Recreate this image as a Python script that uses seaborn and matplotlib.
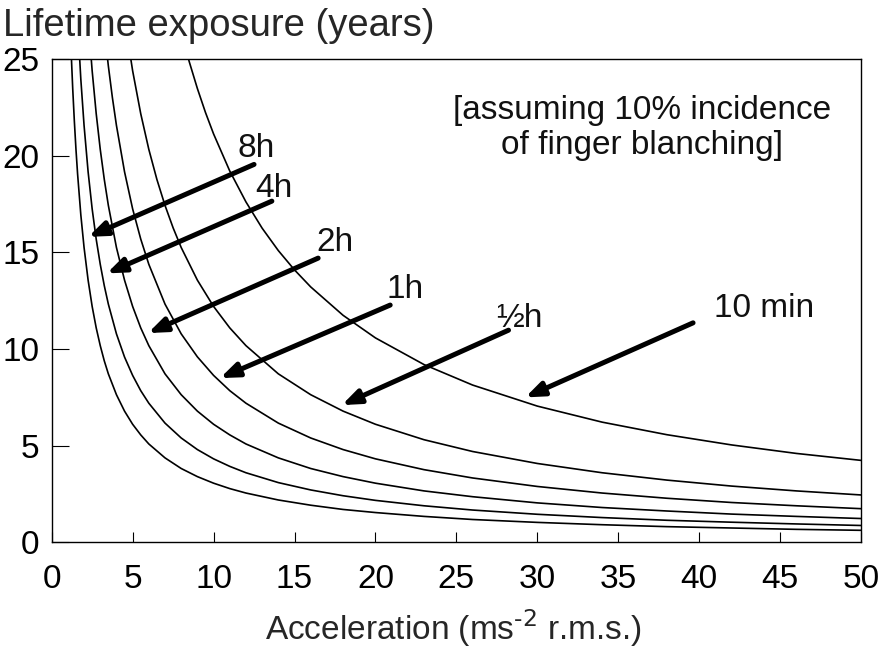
import numpy as np
import pandas as pd
import matplotlib
matplotlib.use("Agg")
import matplotlib.pyplot as plt
from matplotlib.ticker import MultipleLocator
import seaborn as sns

# Acceleration (m/s^2 r.m.s.) and lifetime exposure (years) for each daily exposure duration
accel_8h = [1.2, 1.3, 1.4, 1.5, 1.6, 1.8, 2.0, 2.25, 2.5, 2.75, 3.0, 3.25, 3.5, 4.0, 4.5, 5.0, 5.5, 6.0,
            7.0, 8.0, 9.0, 10, 11, 12, 14, 16, 18, 20, 23, 26, 30, 34, 38, 42, 46, 50]
years_8h = [25.42, 23.46, 21.79, 20.33, 19.06, 16.94, 15.25, 13.56, 12.20, 11.09, 10.17, 9.38, 8.71, 7.63,
            6.78, 6.10, 5.55, 5.08, 4.36, 3.81, 3.39, 3.05, 2.77, 2.54, 2.18, 1.91, 1.69, 1.53, 1.33, 1.17,
            1.02, 0.90, 0.80, 0.73, 0.66, 0.61]

accel_4h = [1.6, 1.8, 2.0, 2.25, 2.5, 2.75, 3.0, 3.25, 3.5, 4.0, 4.5, 5.0, 5.5, 6.0,
            7.0, 8.0, 9.0, 10, 11, 12, 14, 16, 18, 20, 23, 26, 30, 34, 38, 42, 46, 50]
years_4h = [26.96, 23.96, 21.57, 19.17, 17.25, 15.68, 14.38, 13.27, 12.32, 10.78, 9.58, 8.63, 7.84, 7.19,
            6.16, 5.39, 4.79, 4.31, 3.92, 3.59, 3.08, 2.70, 2.40, 2.16, 1.88, 1.66, 1.44, 1.27, 1.13, 1.03,
            0.94, 0.86]

accel_2h = [2.25, 2.5, 2.75, 3.0, 3.25, 3.5, 4.0, 4.5, 5.0, 5.5, 6.0,
            7.0, 8.0, 9.0, 10, 11, 12, 14, 16, 18, 20, 23, 26, 30, 34, 38, 42, 46, 50]
years_2h = [27.11, 24.40, 22.18, 20.33, 18.77, 17.43, 15.25, 13.56, 12.20, 11.09, 10.17,
            8.71, 7.63, 6.78, 6.10, 5.55, 5.08, 4.36, 3.81, 3.39, 3.05, 2.65, 2.35, 2.03, 1.79, 1.61,
            1.45, 1.33, 1.22]

accel_1h = [3.25, 3.5, 3.75, 4.0, 4.5, 5.0, 5.5, 6.0, 7.0, 8.0, 9.0, 10, 11, 12, 14, 16, 18, 20,
            23, 26, 30, 34, 38, 42, 46, 50]
years_1h = [26.54, 24.65, 23.01, 21.57, 19.17, 17.25, 15.69, 14.38, 12.32, 10.78, 9.59, 8.63, 7.84, 7.19,
            6.16, 5.39, 4.79, 4.31, 3.75, 3.32, 2.88, 2.54, 2.27, 2.05, 1.88, 1.73]

accel_30m = [4.5, 5.0, 5.5, 6.0, 6.5, 7.0, 7.5, 8.0, 9.0, 10, 11, 12, 14, 16, 18, 20, 23, 26, 30,
             34, 38, 42, 46, 50]
years_30m = [27.11, 24.40, 22.18, 20.33, 18.77, 17.43, 16.27, 15.25, 13.56, 12.20, 11.09, 10.17, 8.71,
             7.63, 6.78, 6.10, 5.30, 4.69, 4.07, 3.59, 3.21, 2.90, 2.65, 2.44]

accel_10m = [8.0, 8.5, 9.0, 9.5, 10, 11, 12, 13, 14, 15, 16, 18, 20, 23, 26, 30, 34, 38, 42, 46, 50]
years_10m = [26.41, 24.86, 23.48, 22.24, 21.13, 19.21, 17.61, 16.25, 15.09, 14.09, 13.21, 11.74, 10.57,
             9.19, 8.13, 7.04, 6.21, 5.56, 5.03, 4.59, 4.23]

durations = ["8h", "4h", "2h", "1h", "\u00bdh", "10 min"]
accels = [accel_8h, accel_4h, accel_2h, accel_1h, accel_30m, accel_10m]
years = [years_8h, years_4h, years_2h, years_1h, years_30m, years_10m]

df = pd.concat(
    [pd.DataFrame({"acceleration": a, "years": y, "duration": d})
     for a, y, d in zip(accels, years, durations)],
    ignore_index=True,
)

# Arrow annotations: (label, label position, arrow tail, arrow tip)
label_pos = [(12.6, 20.4), (13.7, 18.3), (17.5, 15.5), (21.8, 13.1), (28.9, 11.6), (44.0, 12.1)]
arrow_tail = [(12.5, 19.55), (13.6, 17.65), (16.46, 14.7), (20.91, 12.27), (28.22, 10.97), (39.62, 11.35)]
arrow_tip = [(2.26, 15.8), (3.4, 13.91), (5.95, 10.82), (10.4, 8.49), (17.92, 7.09), (29.25, 7.49)]

sns.set_theme(style="white")
plt.rcParams["font.family"] = ["Liberation Sans", "DejaVu Sans"]

fig = plt.figure(figsize=(8.85, 6.5), dpi=100)
ax = fig.add_axes([0.0584, 0.166, 0.9146, 0.743])

sns.lineplot(data=df, x="acceleration", y="years", units="duration", estimator=None,
             color="black", linewidth=1.2, ax=ax, legend=False)

for lab, lp, tail, tip in zip(durations, label_pos, arrow_tail, arrow_tip):
    ax.annotate("", xy=tip, xytext=tail,
                arrowprops=dict(arrowstyle="-|>,head_length=0.9,head_width=0.35",
                                color="black", lw=3.6, shrinkA=0, shrinkB=0))
    ax.text(lp[0], lp[1], lab, fontsize=24, ha="center", va="center", color="#111111")

ax.text(36.45, 21.45, "[assuming 10% incidence\nof finger blanching]", fontsize=24,
        ha="center", va="center", linespacing=1.15, color="#111111")

ax.set_xlim(0, 50)
ax.set_ylim(0, 25)
ax.xaxis.set_major_locator(MultipleLocator(5))
ax.xaxis.set_minor_locator(MultipleLocator(1))
ax.yaxis.set_major_locator(MultipleLocator(5))
ax.yaxis.set_minor_locator(MultipleLocator(1))
ax.tick_params(axis="x", which="major", direction="in", length=7, width=0.8, pad=16,
               labelsize=24, colors="black")
ax.tick_params(axis="x", which="minor", direction="in", length=4, width=0.7)
ax.tick_params(axis="y", which="major", direction="in", length=12, width=0.8, pad=9,
               labelsize=24, colors="black")
ax.tick_params(axis="y", which="minor", direction="in", length=6, width=0.7)
ax.tick_params(bottom=True, left=True, top=False, right=False)
ax.set_xlabel("")
ax.set_ylabel("")
for sp in ax.spines.values():
    sp.set_color("black")
    sp.set_linewidth(1.0)

fig.text(0.003, 1 - 26 / 650, "Lifetime exposure (years)", fontsize=27.5, ha="left", va="center")
fig.text(0.512, 1 - 628 / 650, "Acceleration (ms$^{\\text{-2}}$ r.m.s.)", fontsize=24,
         ha="center", va="center")

fig.savefig("out.png", dpi=100, facecolor="white")
